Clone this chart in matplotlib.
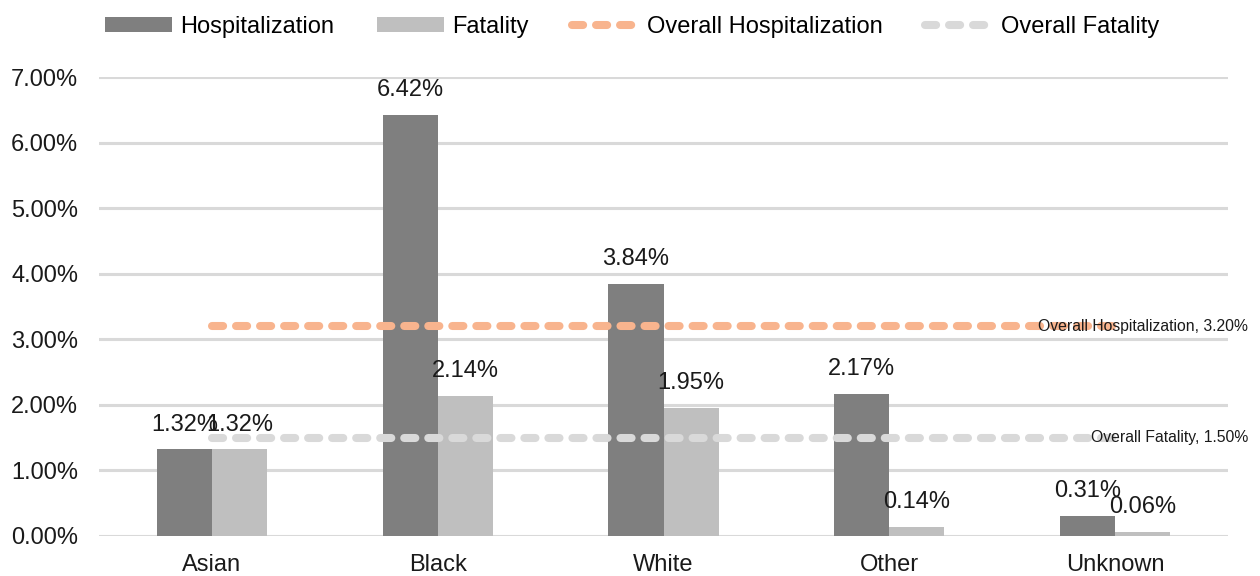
import matplotlib
matplotlib.use("Agg")
import matplotlib.pyplot as plt
import numpy as np
from matplotlib.ticker import FuncFormatter

plt.rcParams["font.family"] = ["Liberation Sans", "DejaVu Sans"]
plt.rcParams["lines.scale_dashes"] = False

# Data (percent)
groups = ["Asian", "Black", "White", "Other", "Unknown"]
hospitalization = [1.32, 6.42, 3.84, 2.17, 0.31]
fatality = [1.32, 2.14, 1.95, 0.14, 0.06]
overall_hospitalization = 3.20
overall_fatality = 1.50

c_hosp = "#7f7f7f"
c_fat = "#bfbfbf"
c_ov_hosp = "#f8b48e"
c_ov_fat = "#d9d9d9"
c_grid = "#d9d9d9"
c_text = "#1a1a1a"

W, H = 1260, 576
fig = plt.figure(figsize=(W / 100, H / 100), dpi=100)
ax = fig.add_axes([99 / W, 1 - 536 / H, (1228 - 99) / W, (536 - 77) / H])

x = np.arange(len(groups))
bw = 0.244

b1 = ax.bar(x - bw / 2, hospitalization, bw, color=c_hosp, zorder=2, label="Hospitalization")
b2 = ax.bar(x + bw / 2, fatality, bw, color=c_fat, zorder=2, label="Fatality")

dash = (8, 9.3)
l1, = ax.plot(x, [overall_hospitalization] * len(x), color=c_ov_hosp, lw=5.8,
              dashes=dash, dash_capstyle="round", zorder=3, label="Overall Hospitalization")
l2, = ax.plot(x, [overall_fatality] * len(x), color=c_ov_fat, lw=5.8,
              dashes=dash, dash_capstyle="round", zorder=3, label="Overall Fatality")

for bars, vals in ((b1, hospitalization), (b2, fatality)):
    for rect, v in zip(bars, vals):
        ax.annotate(f"{v:.2f}%", (rect.get_x() + rect.get_width() / 2, v),
                    xytext=(0, 10), textcoords="offset points", ha="center", va="bottom",
                    fontsize=17, color=c_text, zorder=5)

# Labels for the overall reference lines, right-aligned past the last category
x_right = -0.5 + (1248 - 99) / ((1228 - 99) / len(groups))
ax.text(x_right, overall_hospitalization, f"Overall Hospitalization, {overall_hospitalization:.2f}%",
        ha="right", va="center", fontsize=11.3, color=c_text, zorder=5, clip_on=False)
ax.text(x_right, overall_fatality, f"Overall Fatality, {overall_fatality:.2f}%",
        ha="right", va="center", fontsize=11.3, color=c_text, zorder=5, clip_on=False)

ax.set_xlim(-0.5, len(groups) - 0.5)
ax.set_ylim(0, 7)
ax.set_yticks(np.arange(0, 8, 1))
ax.yaxis.set_major_formatter(FuncFormatter(lambda v, p: f"{v:.2f}%"))
ax.set_xticks(x)
ax.set_xticklabels(groups)
ax.tick_params(axis="both", length=0, labelsize=17, labelcolor=c_text)
ax.tick_params(axis="y", pad=15)
ax.tick_params(axis="x", pad=13)
ax.grid(axis="y", color=c_grid, lw=2.2, zorder=0)
ax.set_axisbelow(True)
for s in ax.spines.values():
    s.set_visible(False)

fig.legend(handles=[b1, b2, l1, l2], loc="center", bbox_to_anchor=(632 / W, 1 - 27 / H),
           ncol=4, frameon=False, fontsize=17, handlelength=2.85, handleheight=0.6,
           handletextpad=0.35, columnspacing=1.8, borderpad=0, borderaxespad=0)

fig.savefig("out.png", dpi=100)
